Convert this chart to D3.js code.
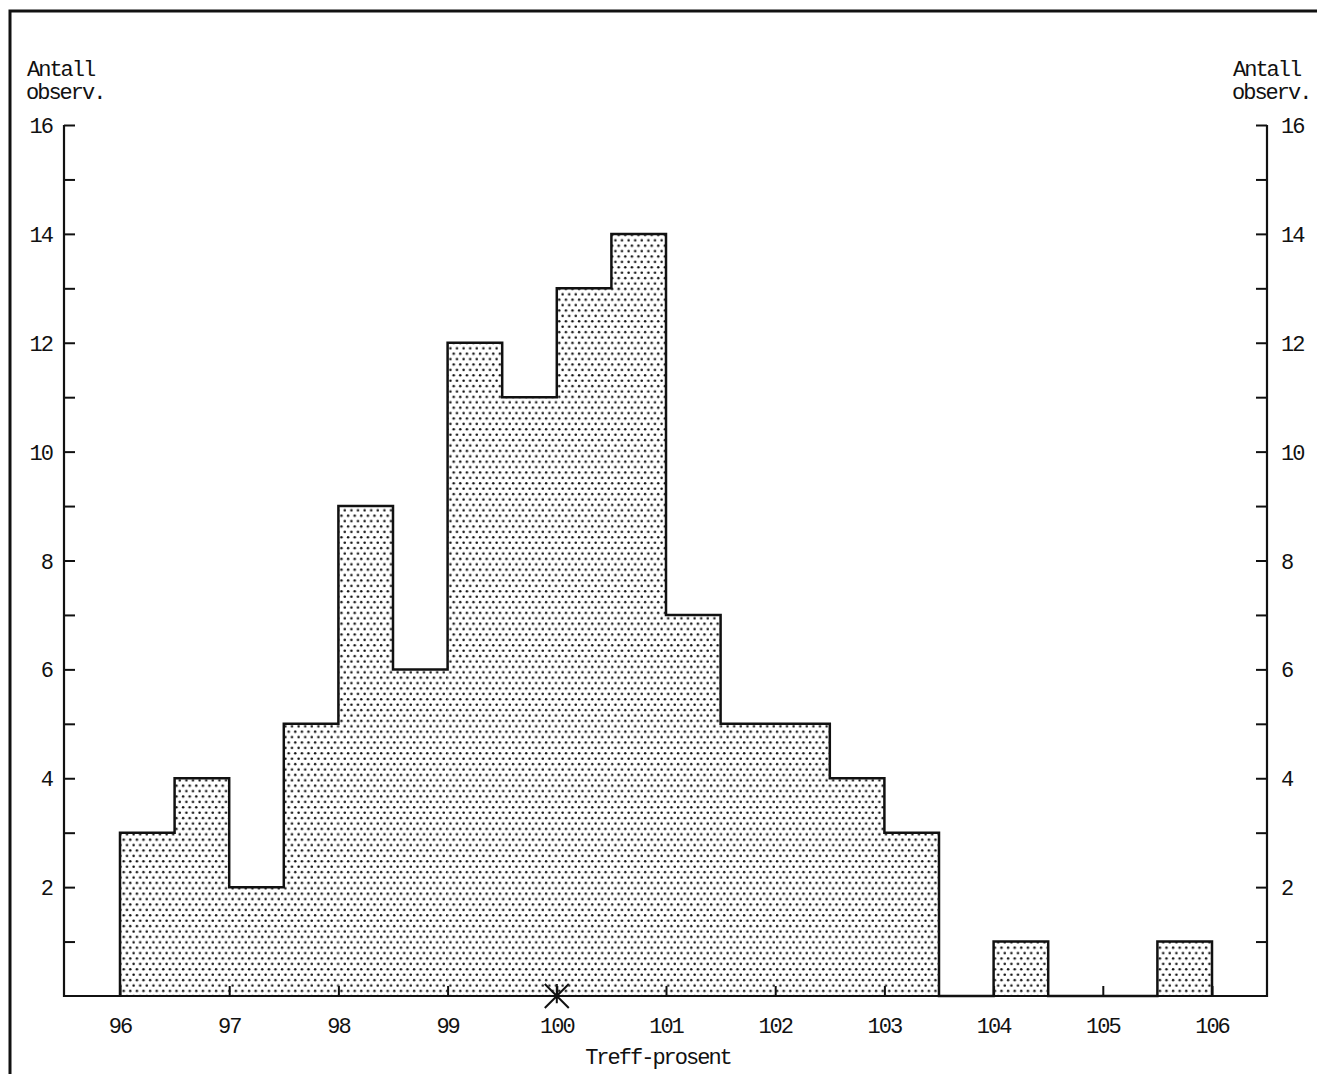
<!DOCTYPE html>
<html>
<head>
<meta charset="utf-8">
<script src="https://cdn.jsdelivr.net/npm/d3@7"></script>
<style>
  body { margin: 0; background: #fff; }
  text { font-family: "Liberation Mono", "DejaVu Sans Mono", monospace; fill: #111; font-size: 22px; letter-spacing: -2px; }
</style>
</head>
<body>
<svg id="chart" width="1317" height="1074"></svg>
<script>
// histogram of hit percentages, bins are 0.5 wide
const binStarts = [96, 96.5, 97, 97.5, 98, 98.5, 99, 99.5, 100, 100.5,
                   101, 101.5, 102, 102.5, 103, 103.5, 104, 104.5, 105, 105.5];
const counts = [3, 4, 2, 5, 9, 6, 12, 11, 13, 14,
                7, 5, 5, 4, 3, 0, 1, 0, 0, 1];
const binWidth = 0.5;
const xTicks = [96, 97, 98, 99, 100, 101, 102, 103, 104, 105, 106];
const yTicksMajor = [2, 4, 6, 8, 10, 12, 14, 16];
const yTicksAll = d3.range(1, 17);
const markerValue = 100;

const svg = d3.select("#chart");

const x = d3.scaleLinear().domain([95.5, 106.5]).range([65.4, 1266.6]);
const y = d3.scaleLinear().domain([0, 16]).range([996, 125]);

// dotted fill
const defs = svg.append("defs");
const pat = defs.append("pattern")
    .attr("id", "dots")
    .attr("patternUnits", "userSpaceOnUse")
    .attr("width", 6.6)
    .attr("height", 10.8);
pat.append("circle").attr("cx", 1.6).attr("cy", 2.7).attr("r", 1.25).attr("fill", "#111");
pat.append("circle").attr("cx", 4.9).attr("cy", 8.1).attr("r", 1.25).attr("fill", "#111");

// frame border of the page
svg.append("path")
    .attr("d", "M10,1074 L10,11 L1317,11")
    .attr("fill", "none")
    .attr("stroke", "#111")
    .attr("stroke-width", 3);

// bars (fill only)
svg.selectAll("rect.bar")
    .data(binStarts.map((b, i) => ({ x0: b, n: counts[i] })).filter(d => d.n > 0))
    .enter()
    .append("rect")
    .attr("class", "bar")
    .attr("x", d => x(d.x0))
    .attr("y", d => y(d.n))
    .attr("width", d => x(d.x0 + binWidth) - x(d.x0))
    .attr("height", d => y(0) - y(d.n))
    .attr("fill", "url(#dots)");

// step outline
const pts = [[binStarts[0], 0]];
binStarts.forEach((b, i) => pts.push([b, counts[i]]));
pts.push([binStarts[binStarts.length - 1] + binWidth, 0]);
const stepLine = d3.line()
    .x(d => x(d[0]))
    .y(d => y(d[1]))
    .curve(d3.curveStepAfter);
svg.append("path")
    .attr("d", stepLine(pts))
    .attr("fill", "none")
    .attr("stroke", "#111")
    .attr("stroke-width", 2.5);

// axes
const axisG = svg.append("g");
const leftAxis = d3.axisLeft(y).tickValues(yTicksAll).tickSize(-11).tickFormat("");
const rightAxis = d3.axisRight(y).tickValues(yTicksAll).tickSize(-11).tickFormat("");
axisG.append("g").attr("transform", "translate(64,0)").call(leftAxis);
axisG.append("g").attr("transform", "translate(1267,0)").call(rightAxis);
const bottomAxis = d3.axisBottom(x).tickValues(xTicks).tickSize(-10).tickFormat("");
axisG.append("g").attr("transform", "translate(0,996)").call(bottomAxis);
axisG.selectAll(".domain").remove();
axisG.selectAll(".tick line").attr("stroke", "#111").attr("stroke-width", 2);

svg.append("path")
    .attr("d", `M64,${y(16)} L64,${y(0)} L1267,${y(0)} L1267,${y(16)}`)
    .attr("fill", "none")
    .attr("stroke", "#111")
    .attr("stroke-width", 2.2);

// tick labels
svg.selectAll("text.yl")
    .data(yTicksMajor)
    .enter()
    .append("text")
    .attr("x", 52)
    .attr("y", d => y(d) + 8)
    .attr("text-anchor", "end")
    .text(d => d);
svg.selectAll("text.yr")
    .data(yTicksMajor)
    .enter()
    .append("text")
    .attr("x", 1281)
    .attr("y", d => y(d) + 8)
    .text(d => d);
svg.selectAll("text.xl")
    .data(xTicks)
    .enter()
    .append("text")
    .attr("x", d => x(d))
    .attr("y", 1033)
    .attr("text-anchor", "middle")
    .text(d => d);

// axis titles
svg.append("text").attr("x", 27).attr("y", 76).text("Antall");
svg.append("text").attr("x", 26).attr("y", 99).text("observ.");
svg.append("text").attr("x", 1233).attr("y", 76).text("Antall");
svg.append("text").attr("x", 1232).attr("y", 99).text("observ.");
svg.append("text").attr("x", 658).attr("y", 1064).attr("text-anchor", "middle")
    .text("Treff-prosent");

// asterisk marking 100
const mx = x(markerValue), my = y(0), r = 12;
svg.append("path")
    .attr("d", `M${mx - r},${my - r} L${mx + r},${my + r} M${mx - r},${my + r} L${mx + r},${my - r} M${mx},${my - r} L${mx},${my + r * 0.6}`)
    .attr("stroke", "#111")
    .attr("stroke-width", 2)
    .attr("fill", "none");
</script>
</body>
</html>
